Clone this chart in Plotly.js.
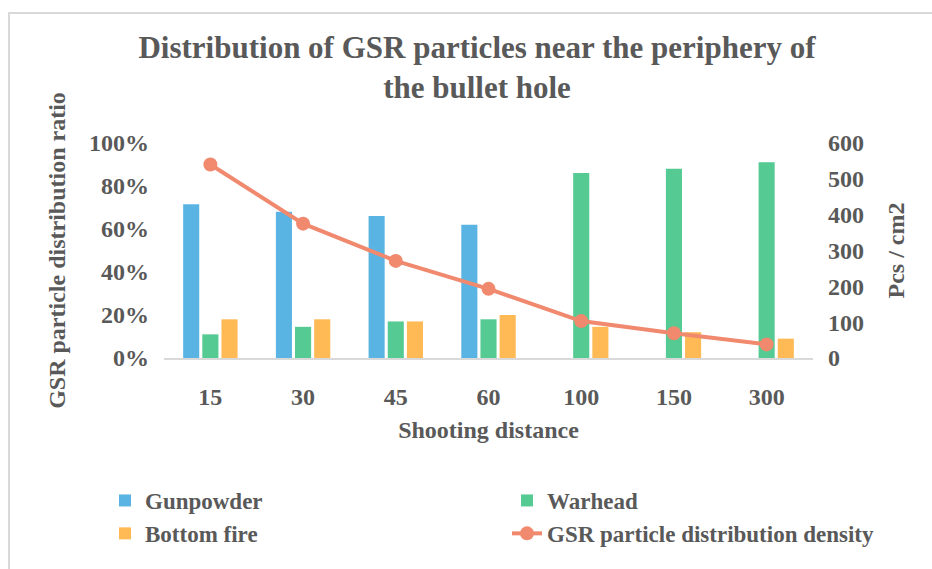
<!DOCTYPE html>
<html>
<head>
<meta charset="utf-8">
<script src="https://cdn.plot.ly/plotly-3.0.1.min.js"></script>
<style>html,body{margin:0;padding:0;background:#fff;}#chart{width:932px;height:569px;}</style>
</head>
<body>
<div id="chart"></div>
<script>
const categories = ['15', '30', '45', '60', '100', '150', '300'];
const gunpowder = [0.715, 0.68, 0.66, 0.62, 0, 0, 0];
const warhead = [0.11, 0.145, 0.17, 0.18, 0.86, 0.88, 0.91];
const bottomFire = [0.18, 0.18, 0.17, 0.20, 0.145, 0.12, 0.09];
const density = [540, 375, 271, 193, 103, 69, 38];

const FONT = 'Liberation Serif, Times New Roman, serif';
const TXT = '#595959';

const W = 932, H = 569;
const L = 164, R = 119, T = 143, B = 211;
const pw = W - L - R, ph = H - T - B;
const px2x = p => (p - L) / pw;
const py2y = p => (H - B - p) / ph;

const traces = [
  {type: 'bar', name: 'Gunpowder', x: categories, y: gunpowder, marker: {color: '#5AB4E3'}, legend: 'legend', yaxis: 'y'},
  {type: 'bar', name: 'Warhead', x: categories, y: warhead, marker: {color: '#55CA92'}, legend: 'legend2', yaxis: 'y'},
  {type: 'bar', name: 'Bottom fire', x: categories, y: bottomFire, marker: {color: '#FFB955'}, legend: 'legend', yaxis: 'y'},
  {type: 'scatter', mode: 'lines+markers', name: 'GSR particle distribution density', x: categories, y: density,
   line: {color: '#F0896E', width: 4}, marker: {color: '#F0896E', size: 14}, legend: 'legend2', yaxis: 'y2'}
];

const layout = {
  width: W, height: H,
  margin: {l: L, r: R, t: T, b: B},
  paper_bgcolor: '#fff', plot_bgcolor: '#fff',
  font: {family: FONT, color: TXT, size: 24, weight: 'bold'},
  title: {
    text: 'Distribution of GSR particles near the periphery of<br>the bullet hole',
    font: {family: FONT, size: 31, color: TXT, weight: 'bold'},
    x: 477 / W, xref: 'container', xanchor: 'center',
    y: 1 - 58 / H, yref: 'container', yanchor: 'top'
  },
  barmode: 'group', bargap: 0.38, bargroupgap: 0.16,
  showlegend: true,
  xaxis: {
    type: 'category', showgrid: false, zeroline: false,
    showline: true, linecolor: '#D9D9D9', linewidth: 2,
    ticks: '', ticklabelstandoff: 16,
    tickfont: {family: FONT, size: 24, color: TXT, weight: 'bold'},
    title: {text: 'Shooting distance', font: {family: FONT, size: 24, color: TXT, weight: 'bold'}, standoff: 12}
  },
  yaxis: {
    range: [0, 1], dtick: 0.2, tickformat: '.0%', showgrid: false, zeroline: false, showline: false,
    ticks: '', ticklabelstandoff: 14,
    tickfont: {family: FONT, size: 24, color: TXT, weight: 'bold'},
    title: {text: 'GSR particle distribution ratio', font: {family: FONT, size: 24, color: TXT, weight: 'bold'}, standoff: 16}
  },
  yaxis2: {
    overlaying: 'y', side: 'right', range: [0, 600], dtick: 100, showgrid: false, zeroline: false, showline: false,
    ticks: '', ticklabelstandoff: 14,
    tickfont: {family: FONT, size: 24, color: TXT, weight: 'bold'},
    title: {text: 'Pcs / cm2', font: {family: FONT, size: 24, color: TXT, weight: 'bold'}, standoff: 24}
  },
  legend: {
    x: px2x(105), xanchor: 'left', y: py2y(479), yanchor: 'top',
    orientation: 'v', bgcolor: 'rgba(0,0,0,0)', traceorder: 'normal',
    font: {family: FONT, size: 23, color: TXT, weight: 'bold'}
  },
  legend2: {
    x: px2x(507), xanchor: 'left', y: py2y(479), yanchor: 'top',
    orientation: 'v', bgcolor: 'rgba(0,0,0,0)', traceorder: 'normal',
    font: {family: FONT, size: 23, color: TXT, weight: 'bold'}
  },
  shapes: [{
    type: 'rect', xref: 'paper', yref: 'paper', layer: 'below',
    x0: px2x(9), x1: px2x(945), y0: py2y(580), y1: py2y(13),
    line: {color: '#D9D9D9', width: 2}, fillcolor: 'rgba(0,0,0,0)'
  }]
};

Plotly.newPlot('chart', traces, layout, {displayModeBar: false, staticPlot: true});
</script>
</body>
</html>
